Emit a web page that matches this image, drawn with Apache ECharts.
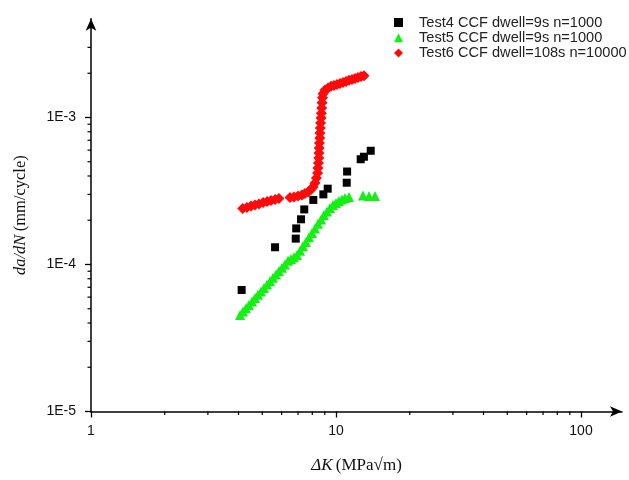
<!DOCTYPE html>
<html><head><meta charset="utf-8">
<script src="https://cdn.jsdelivr.net/npm/echarts@6/dist/echarts.min.js"></script>
<style>html,body{margin:0;padding:0;background:#fff}#c{width:629px;height:480px}</style>
</head><body><div id="c"></div>
<script>
const seriesNames = ['Test4 CCF dwell=9s n=1000', 'Test5 CCF dwell=9s n=1000', 'Test6 CCF dwell=108s n=10000'];

const test4K = [4.12, 5.64, 6.85, 6.88, 7.20, 7.42, 8.08, 8.88, 9.25, 11.06, 11.1, 12.61, 13.0, 13.86];
const test4Rate = [6.71e-5, 1.31e-4, 1.50e-4, 1.76e-4, 2.03e-4, 2.37e-4, 2.75e-4, 3.00e-4, 3.28e-4, 3.60e-4, 4.29e-4, 5.20e-4, 5.41e-4, 5.94e-4];

const test5K = [4.06, 4.17, 4.29, 4.41, 4.54, 4.67, 4.80, 4.94, 5.08, 5.23, 5.38, 5.53, 5.69, 5.85, 6.02, 6.19,
  6.37, 6.55, 6.74, 6.93, 7.13, 7.33, 7.54, 7.76, 7.98, 8.21, 8.44, 8.69, 8.93, 9.19, 9.45, 9.72, 10.0, 10.28,
  10.58, 10.88, 11.30, 12.89, 13.64, 14.43];
const test5Rate = [4.53e-5, 4.78e-5, 5.04e-5, 5.31e-5, 5.60e-5, 5.91e-5, 6.23e-5, 6.56e-5, 6.92e-5, 7.30e-5, 7.69e-5,
  8.11e-5, 8.55e-5, 9.02e-5, 9.50e-5, 1.00e-4, 1.06e-4, 1.09e-4, 1.12e-4, 1.16e-4, 1.24e-4, 1.33e-4, 1.42e-4,
  1.53e-4, 1.64e-4, 1.76e-4, 1.89e-4, 2.02e-4, 2.17e-4, 2.29e-4, 2.42e-4, 2.54e-4, 2.62e-4, 2.70e-4, 2.77e-4,
  2.83e-4, 2.88e-4, 2.95e-4, 2.92e-4, 2.92e-4];

const test6K = [4.16, 4.33, 4.50, 4.67, 4.85, 5.04, 5.23, 5.43, 5.64, 5.85, 6.49, 6.74, 7.00, 7.26, 7.47, 7.69,
  7.91, 8.06, 8.21, 8.32, 8.41, 8.44, 8.48, 8.51, 8.52, 8.54, 8.56, 8.59, 8.60, 8.63, 8.65, 8.69, 8.71, 8.74,
  8.77, 8.81, 8.85, 9.02, 9.28, 9.54, 9.81, 10.09, 10.38, 10.68, 10.99, 11.30, 11.62, 11.96, 12.30, 12.65, 13.01];
const test6Rate = [2.40e-4, 2.44e-4, 2.50e-4, 2.54e-4, 2.58e-4, 2.64e-4, 2.68e-4, 2.72e-4, 2.77e-4, 2.81e-4,
  2.86e-4, 2.88e-4, 2.92e-4, 2.97e-4, 3.04e-4, 3.11e-4, 3.24e-4, 3.37e-4, 3.58e-4, 3.88e-4, 4.19e-4, 4.53e-4,
  4.90e-4, 5.30e-4, 5.73e-4, 6.20e-4, 6.71e-4, 7.25e-4, 7.84e-4, 8.48e-4, 9.18e-4, 9.92e-4, 1.07e-3, 1.16e-3,
  1.26e-3, 1.36e-3, 1.45e-3, 1.54e-3, 1.59e-3, 1.63e-3, 1.65e-3, 1.68e-3, 1.70e-3, 1.73e-3, 1.76e-3, 1.79e-3,
  1.81e-3, 1.84e-3, 1.87e-3, 1.90e-3, 1.92e-3];

const xMajorTicks = [1, 10, 100];
const xTickLabels = ['1', '10', '100'];
const yMajorTicks = [1e-5, 1e-4, 1e-3];
const yTickLabels = ['1E-5', '1E-4', '1E-3'];
const xMinorTicks = [2, 3, 4, 5, 6, 7, 8, 9, 20, 30, 40, 50, 60, 70, 80, 90];
const yMinorTicks = [2e-5, 3e-5, 4e-5, 5e-5, 6e-5, 7e-5, 8e-5, 9e-5, 2e-4, 3e-4, 4e-4, 5e-4, 6e-4, 7e-4, 8e-4, 9e-4, 2e-3, 3e-3];

const X_MIN = 1, X_MAX = 147, Y_MIN = 1e-5, Y_MAX = 4.7e-3;

function zip(a, b) { return a.map((v, i) => [v, b[i]]); }
const minorData = xMinorTicks.map(v => [v, Y_MIN, 0]).concat(yMinorTicks.map(v => [X_MIN, v, 1]));

const chart = echarts.init(document.getElementById('c'), null, { renderer: 'canvas' });
const labelFont = { fontFamily: 'Liberation Sans, Arial, sans-serif', fontSize: 14, color: '#111' };
const serif = 'Liberation Serif, Times New Roman, serif';

chart.setOption({
  backgroundColor: '#fff',
  animation: false,
  grid: { left: 91, top: 18.7, width: 531, height: 392.8 },
  legend: {
    orient: 'vertical', left: 394, top: 15, padding: 0,
    itemWidth: 9, itemHeight: 9, itemGap: 0.3,
    textStyle: { fontFamily: 'Liberation Sans, Arial, sans-serif', fontSize: 14.6, color: '#222', padding: [0, 0, 0, 11] },
    data: [
      { name: seriesNames[0], icon: 'rect' },
      { name: seriesNames[1], icon: 'triangle' },
      { name: seriesNames[2], icon: 'diamond' }
    ]
  },
  xAxis: {
    type: 'log', logBase: 10, min: X_MIN, max: X_MAX,
    name: '{i|ΔK} {n|(MPa√m)}', nameLocation: 'middle', nameGap: 46,
    nameTextStyle: { rich: {
      i: { fontFamily: serif, fontStyle: 'italic', fontSize: 17, color: '#111' },
      n: { fontFamily: serif, fontSize: 17, color: '#111' } } },
    axisLine: { show: true, symbol: ['none', 'arrow'], symbolSize: [8, 12], lineStyle: { color: '#000', width: 1.5 } },
    axisTick: { show: true, inside: false, length: 6, customValues: xMajorTicks, lineStyle: { color: '#000', width: 1.3 } },
    axisLabel: Object.assign({ margin: 13, customValues: xMajorTicks,
      formatter: v => xTickLabels[xMajorTicks.findIndex(t => Math.abs(t - v) / t < 1e-6)] || '' }, labelFont),
    splitLine: { show: false }
  },
  yAxis: {
    type: 'log', logBase: 10, min: Y_MIN, max: Y_MAX,
    name: '{i|da/dN} {n|(mm/cycle)}', nameLocation: 'middle', nameGap: 62, nameRotate: 90,
    nameTextStyle: { rich: {
      i: { fontFamily: serif, fontStyle: 'italic', fontSize: 16.5, color: '#111' },
      n: { fontFamily: serif, fontSize: 16.5, color: '#111' } } },
    axisLine: { show: true, symbol: ['none', 'arrow'], symbolSize: [8, 12], lineStyle: { color: '#000', width: 1.5 } },
    axisTick: { show: true, inside: false, length: 6, customValues: yMajorTicks, lineStyle: { color: '#000', width: 1.3 } },
    axisLabel: Object.assign({ margin: 15, customValues: yMajorTicks,
      formatter: v => yTickLabels[yMajorTicks.findIndex(t => Math.abs(t - v) / t < 1e-6)] || '' }, labelFont),
    splitLine: { show: false }
  },
  series: [
    { name: seriesNames[0], type: 'scatter', symbol: 'rect', symbolSize: 8, itemStyle: { color: '#000', opacity: 1 }, data: zip(test4K, test4Rate) },
    { name: seriesNames[1], type: 'scatter', symbol: 'triangle', symbolSize: 10, itemStyle: { color: '#14f014', opacity: 1 }, data: zip(test5K, test5Rate) },
    { name: seriesNames[2], type: 'scatter', symbol: 'diamond', symbolSize: 11, itemStyle: { color: '#ff0a0a', opacity: 1 }, data: zip(test6K, test6Rate) },
    {
      type: 'custom', silent: true, clip: false, z: 5,
      data: minorData,
      renderItem: function (params, api) {
        const p = api.coord([api.value(0), api.value(1)]);
        const isY = api.value(2) === 1;
        return {
          type: 'line',
          shape: isY ? { x1: p[0] - 3.5, y1: p[1], x2: p[0], y2: p[1] } : { x1: p[0], y1: p[1], x2: p[0], y2: p[1] + 3.5 },
          style: { stroke: '#000', lineWidth: 1.2 }
        };
      }
    }
  ]
});
</script></body></html>
